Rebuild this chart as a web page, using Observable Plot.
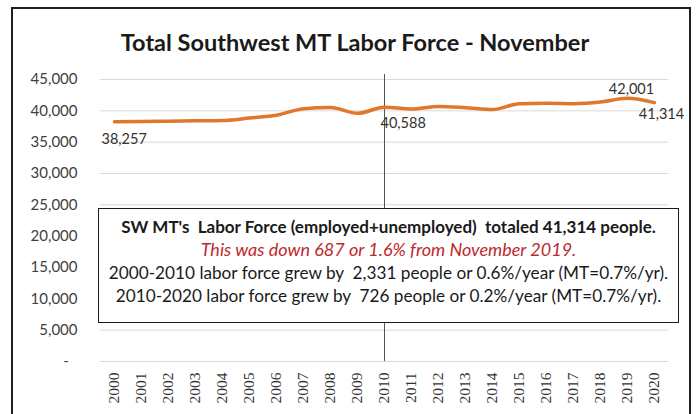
<!DOCTYPE html>
<html><head><meta charset="utf-8">
<script src="https://cdn.jsdelivr.net/npm/d3@7"></script>
<script src="https://cdn.jsdelivr.net/npm/@observablehq/plot@0.6"></script>
<style>
body{margin:0;background:#fff;width:696px;height:414px;overflow:hidden;position:relative;font-family:Lato,"Noto Sans",sans-serif;}
#frame{position:absolute;left:11px;top:7px;width:680px;height:430px;border:2px solid #1f1f1f;box-sizing:border-box;}
#title{position:absolute;left:0;top:29px;width:710px;text-align:center;font-weight:bold;font-size:23.5px;line-height:26px;color:#1a1a1a;}
#chart{position:absolute;left:0;top:60px;}
#note{position:absolute;left:98px;top:208px;width:581px;height:115px;box-sizing:border-box;border:1.5px solid #1a1a1a;background:#fff;text-align:center;color:#1a1a1a;padding-top:6px;}
#note div{line-height:23px;white-space:pre;font-size:17.2px;}
#note .b{font-weight:bold;font-size:17px;}
#note .r{color:#c0282d;font-style:italic;font-size:18px;}
</style></head>
<body>
<div id="frame"></div>
<div id="title">Total Southwest MT Labor Force - November</div>
<div id="chart"></div>
<div id="note">
<div class="b">SW MT's  Labor Force (employed+unemployed)  totaled 41,314 people.</div>
<div class="r">This was down 687 or 1.6% from November 2019.</div>
<div>2000-2010 labor force grew by  2,331 people or 0.6%/year (MT=0.7%/yr).</div>
<div>2010-2020 labor force grew by  726 people or 0.2%/year (MT=0.7%/yr).</div>
</div>
<script>
const years = ["2000","2001","2002","2003","2004","2005","2006","2007","2008","2009","2010","2011","2012","2013","2014","2015","2016","2017","2018","2019","2020"];
const laborForce = [38257,38300,38350,38400,38450,38850,39300,40350,40550,39600,40588,40300,40700,40500,40200,41150,41200,41150,41400,42001,41314];
const yTicks = [0,5000,10000,15000,20000,25000,30000,35000,40000,45000];
const markerYear = ["2010"];

const data = years.map((year, i) => ({year, value: laborForce[i]}));
const fmt = d3.format(",");
const pick = (y) => data.filter(d => d.year === y);

const chart = Plot.plot({
  width: 696, height: 354,
  marginTop: 19, marginBottom: 53, marginLeft: 100, marginRight: 28,
  style: {fontFamily: "Lato, sans-serif", fontSize: "14.5px", color: "#404040", background: "transparent", overflow: "visible"},
  x: {type: "point", domain: years, padding: 0.5, label: null},
  y: {domain: [0, 45000], label: null},
  marks: [
    Plot.ruleY(yTicks, {stroke: "#d9d9d9", strokeWidth: 1}),
    Plot.ruleX(markerYear, {x: d => d, stroke: "#555", strokeWidth: 1, insetTop: -5}),
    Plot.axisY(yTicks, {tickSize: 0, tickPadding: 23, tickFormat: d => d === 0 ? "-\u2007" : fmt(d), fontSize: 15, fill: "#404040"}),
    Plot.axisX(years, {tickSize: 0, tickPadding: 11, tickRotate: -90, fontFamily: "Liberation Serif", fontSize: 15.5, fill: "#333"}),
    Plot.line(data, {x: "year", y: "value", stroke: "#e0772a", strokeWidth: 3.5, curve: "monotone-x"}),
    Plot.text(pick("2000"), {x: "year", y: "value", text: d => fmt(d.value), textAnchor: "start", dx: -13, dy: 18, fill: "#333", fontSize: 14.5}),
    Plot.text(pick("2010"), {x: "year", y: "value", text: d => fmt(d.value), textAnchor: "start", dx: -4, dy: 16, fill: "#333", fontSize: 14.5}),
    Plot.text(pick("2019"), {x: "year", y: "value", text: d => fmt(d.value), textAnchor: "middle", dx: 4, dy: -9, fill: "#333", fontSize: 14.5}),
    Plot.text(pick("2020"), {x: "year", y: "value", text: d => fmt(d.value), textAnchor: "middle", dx: 7, dy: 12, fill: "#333", fontSize: 14.5})
  ]
});
document.getElementById("chart").appendChild(chart);
</script>
</body></html>
